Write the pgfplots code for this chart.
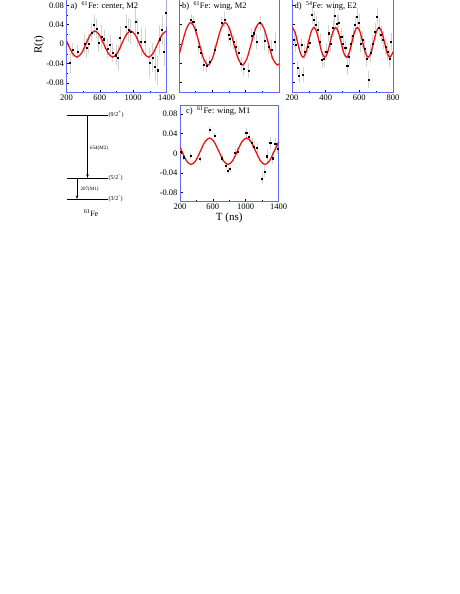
\documentclass[border=0pt]{standalone}
\usepackage{fontspec}
\setmainfont{Liberation Serif}
\usepackage{pgfplots}
\pgfplotsset{compat=1.18}
\usetikzlibrary{arrows.meta}
\definecolor{frameblue}{RGB}{95,105,250}
\definecolor{fitred}{RGB}{235,20,20}

\pgfplotsset{
  panel/.style={
    scale only axis, anchor=south west,
    axis line style={draw=frameblue, line width=0.9pt},
    tick style={black, line width=0.4pt},
    tick pos=left, tick align=inside,
    major tick length=2.5pt, minor tick length=1.3pt,
    minor y tick num=1,
    scaled x ticks=false, scaled y ticks=false,
    ytick={-0.08,-0.04,0,0.04,0.08},
    yticklabels={-0.08,-0.04,0,0.04,0.08},
    tick label style={font=\fontsize{8.5}{9}\selectfont},
    xticklabel style={yshift=1pt},
    yticklabel style={xshift=1pt},
  },
  fit/.style={fitred, line width=1.3pt, smooth, no markers},
  pts/.style={only marks, mark=square*, mark size=0.55pt, black,
    error bars/.cd, y dir=both, y explicit,
    error mark=none, error bar style={gray!35, line width=0.5pt}},
}

\begin{document}
\begin{tikzpicture}
\path[use as bounding box] (0pt,0pt) rectangle (459pt,-594pt);
\clip (0pt,0pt) rectangle (459pt,-594pt);

% ---- a) 61Fe center, M2
\begin{axis}[panel, at={(66.5pt,-92.5pt)}, width=100pt, height=94pt,
  xmin=200, xmax=1400, ymin=-0.1, ymax=0.094,
  xtick={200,600,1000,1400}, xticklabels={200,600,1000,1400},
  minor x tick num=1]
\addplot+[pts] table[x=t, y=r, y error=e] {
t r e
242 -0.039 0.020
274 -0.012 0.015
334 -0.016 0.015
414 0.000 0.020
442 -0.008 0.020
466 0.001 0.020
502 0.024 0.020
530 0.039 0.020
558 0.032 0.020
586 0.003 0.020
622 0.015 0.025
650 0.010 0.020
690 -0.009 0.020
722 -0.001 0.020
754 -0.018 0.020
794 -0.023 0.020
818 -0.028 0.025
842 0.013 0.025
914 0.036 0.025
942 0.029 0.025
970 0.026 0.025
1026 0.046 0.030
1050 0.024 0.030
1094 0.005 0.030
1142 0.004 0.030
1194 -0.038 0.030
1234 -0.028 0.030
1262 -0.047 0.030
1294 -0.054 0.030
1314 0.010 0.030
1346 0.029 0.030
1370 -0.016 0.030
1394 0.065 0.030
};
\addplot[fit] coordinates {
(200,0.0069) (217.5,0) (271.25,-0.0191) (325,-0.027) (378.75,-0.0191)
(432.5,0) (486.25,0.0191) (540,0.027) (593.75,0.0191) (647.5,0)
(701.25,-0.0191) (755,-0.027) (808.75,-0.0191) (862.5,0) (916.25,0.0191)
(970,0.027) (1023.75,0.0191) (1077.5,0) (1131.25,-0.0191) (1185,-0.027)
(1238.75,-0.0191) (1292.5,0) (1346.25,0.0191) (1400,0.027)
};
\end{axis}

% ---- b) 61Fe wing, M2
\begin{axis}[panel, at={(179pt,-92pt)}, width=100pt, height=93.5pt,
  xmin=200, xmax=1400, ymin=-0.1, ymax=0.094,
  xtick={200,600,1000,1400}, xticklabels={}, yticklabels={},
  minor x tick num=1]
\addplot+[pts] table[x=t, y=r, y error=e] {
t r e
344 0.050 0.012
370 0.046 0.012
400 0.029 0.012
432 -0.006 0.012
464 -0.019 0.012
492 -0.044 0.012
532 -0.046 0.012
564 -0.037 0.012
624 -0.012 0.012
712 0.044 0.012
744 0.050 0.015
792 0.019 0.015
812 0.010 0.015
852 0.005 0.015
884 -0.006 0.015
912 -0.019 0.015
944 -0.042 0.015
976 -0.052 0.015
1032 -0.055 0.015
1072 0.017 0.015
1100 0.022 0.015
1132 0.005 0.015
1172 0.043 0.015
1224 0.007 0.020
1272 -0.006 0.015
1312 -0.012 0.020
1352 0.005 0.020
};
\addplot[fit] coordinates {
(200,-0.0227) (236.25,0) (288.125,0.0311) (340,0.044) (391.875,0.0311)
(443.75,0) (495.625,-0.0311) (547.5,-0.044) (599.375,-0.0311) (651.25,0)
(703.125,0.0311) (755,0.044) (806.875,0.0311) (858.75,0) (910.625,-0.0311)
(962.5,-0.044) (1014.375,-0.0311) (1066.25,0) (1118.125,0.0311) (1170,0.044)
(1221.875,0.0311) (1273.75,0) (1325.625,-0.0311) (1377.5,-0.044) (1400,-0.0415)
};
\end{axis}

% ---- d) 54Fe wing, E2
\begin{axis}[panel, at={(292pt,-92pt)}, width=101pt, height=93.5pt,
  xmin=200, xmax=800, ymin=-0.1, ymax=0.094,
  xtick={200,400,600,800}, xticklabels={200,400,600,800}, yticklabels={},
  minor x tick num=1]
\addplot+[pts] table[x=t, y=r, y error=e] {
t r e
212 0.008 0.015
220 -0.002 0.015
232 -0.050 0.015
241 -0.066 0.015
255 -0.002 0.015
265 -0.064 0.015
275 -0.016 0.015
291 -0.006 0.015
303 0.003 0.015
318 0.060 0.018
330 0.050 0.018
342 0.039 0.018
354 0.029 0.018
366 0.005 0.018
378 -0.033 0.018
389 -0.030 0.018
403 -0.016 0.018
417 0.022 0.018
429 0.001 0.018
443 0.033 0.018
453 0.058 0.018
466 0.041 0.018
476 0.044 0.018
492 0.015 0.018
502 0.001 0.018
516 -0.009 0.018
528 -0.046 0.018
539 -0.026 0.018
551 0.001 0.018
563 0.017 0.018
575 0.039 0.018
585 0.057 0.018
597 0.043 0.018
606 0.001 0.018
618 0.008 0.018
630 -0.011 0.018
642 -0.030 0.018
654 -0.074 0.018
666 -0.019 0.018
679 0.001 0.018
693 0.026 0.018
705 0.057 0.018
717 0.033 0.018
729 0.019 0.018
741 0.008 0.018
754 -0.006 0.018
768 -0.016 0.018
778 -0.030 0.018
788 0.005 0.018
};
\addplot[fit] coordinates {
(200,0.034) (217.1,0.0249) (233.25,0.003) (249.4,-0.0189) (265.5,-0.028)
(281.6,-0.0189) (297.75,0.003) (313.9,0.0249) (330,0.034) (346.1,0.0249)
(362.25,0.003) (378.4,-0.0189) (394.5,-0.028) (410.6,-0.0189) (426.75,0.003)
(442.9,0.0249) (459,0.034) (475.1,0.0249) (491.25,0.003) (507.4,-0.0189)
(523.5,-0.028) (539.6,-0.0189) (555.75,0.003) (571.9,0.0249) (588,0.034)
(604.1,0.0249) (620.25,0.003) (636.4,-0.0189) (652.5,-0.028) (668.6,-0.0189)
(684.75,0.003) (700.9,0.0249) (717,0.034) (733.1,0.0249) (749.25,0.003)
(765.4,-0.0189) (781.5,-0.028) (797.6,-0.0189) (800,-0.016)
};
\end{axis}

% ---- c) 61Fe wing, M1
\begin{axis}[panel, at={(180pt,-201pt)}, width=98.5pt, height=96pt,
  xmin=200, xmax=1400, ymin=-0.097, ymax=0.098,
  xtick={200,600,1000,1400}, xticklabels={200,600,1000,1400},
  minor x tick num=1,
  xlabel={T (ns)}, xlabel style={font=\fontsize{11}{12}\selectfont, yshift=3pt}]
\addplot+[pts] table[x=t, y=r, y error=e] {
t r e
208 0.004 0.006
241 -0.008 0.006
330 -0.005 0.006
444 -0.011 0.006
558 0.048 0.006
619 0.036 0.006
709 -0.010 0.008
762 -0.025 0.008
782 -0.035 0.008
810 -0.031 0.008
871 0.002 0.008
900 0.004 0.008
1006 0.041 0.010
1038 0.033 0.010
1075 0.021 0.010
1103 0.014 0.010
1136 0.011 0.010
1197 -0.051 0.012
1230 -0.037 0.012
1258 -0.006 0.012
1299 0.021 0.012
1327 -0.010 0.012
1360 0.019 0.012
1388 0.010 0.012
};
\addplot[fit] coordinates {
(200,0.0123) (222.5,0.004) (278.75,-0.0151) (335,-0.023) (391.25,-0.0151)
(447.5,0.004) (503.75,0.0231) (560,0.031) (616.25,0.0231) (672.5,0.004)
(728.75,-0.0151) (785,-0.023) (841.25,-0.0151) (897.5,0.004) (953.75,0.0231)
(1010,0.031) (1066.25,0.0231) (1122.5,0.004) (1178.75,-0.0151) (1235,-0.023)
(1291.25,-0.0151) (1347.5,0.004) (1400,0.022)
};
\end{axis}

% panel labels
\begin{scope}[every node/.style={font=\fontsize{8.5}{9}\selectfont, anchor=west, inner sep=0pt}]
\node at (70.5pt,-6pt) {a)\ \ \textsuperscript{61}Fe: center, M2};
\node at (182pt,-6pt) {b)\ \ \textsuperscript{61}Fe: wing, M2};
\node at (294.5pt,-6pt) {d)\ \ \textsuperscript{54}Fe: wing, E2};
\node at (186pt,-111pt) {c)\ \ \textsuperscript{61}Fe: wing, M1};
\end{scope}
\node[rotate=90, font=\fontsize{11}{12}\selectfont] at (39pt,-45pt) {R(t)};

% level scheme of 61Fe
\begin{scope}[line width=0.8pt]
\draw (67pt,-115pt) -- (108pt,-115pt);
\draw (67pt,-178.5pt) -- (108pt,-178.5pt);
\draw (67pt,-199.5pt) -- (108pt,-199.5pt);
\end{scope}
\draw[line width=0.5pt, -{Stealth[length=3.5pt,width=2.5pt]}] (87.5pt,-115pt) -- (87.5pt,-178pt);
\draw[line width=0.5pt, -{Stealth[length=3.5pt,width=2.5pt]}] (77pt,-178.5pt) -- (77pt,-199pt);
\begin{scope}[every node/.style={font=\fontsize{6}{7}\selectfont, anchor=west, inner sep=0pt}]
\node at (108.5pt,-114pt) {(9/2\textsuperscript{+})};
\node at (108.5pt,-178pt) {(5/2\textsuperscript{-})};
\node at (108.5pt,-199pt) {(3/2\textsuperscript{-})};
\node[font=\fontsize{5}{6}\selectfont] at (90pt,-148pt) {654(M2)};
\node[font=\fontsize{5}{6}\selectfont] at (80.5pt,-189.5pt) {207(M1)};
\end{scope}
\node[font=\fontsize{8}{9}\selectfont] at (91pt,-213pt) {\textsuperscript{61}Fe};
\end{tikzpicture}
\end{document}
